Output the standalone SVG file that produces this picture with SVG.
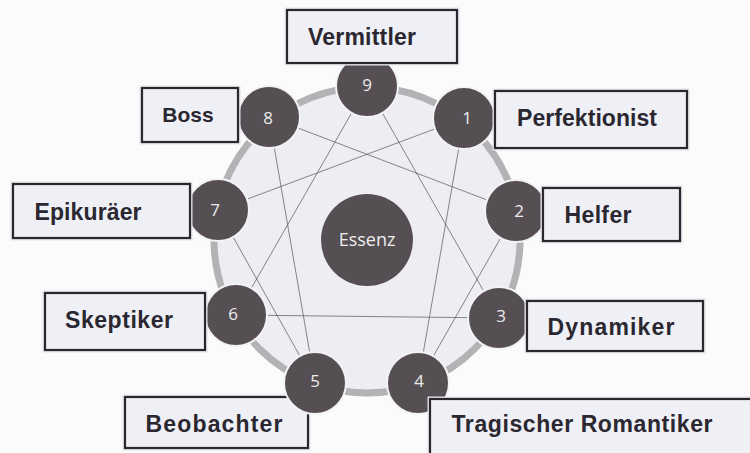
<svg xmlns="http://www.w3.org/2000/svg" width="750" height="453" viewBox="0 0 750 453">
<style>
.bg{fill:#fbfbfc}
.ring{fill:#ededf3;stroke:#b3b3b6;stroke-width:7}
.ln{stroke:#55555a;stroke-width:0.7;fill:none}
.node{fill:#554f53;stroke:#f3f3f5;stroke-width:2}
.num{font-family:"Open Sans","DejaVu Sans",sans-serif;font-size:17px;fill:#ececec;text-anchor:middle}
.box{fill:#efeff6;stroke:#2a282d;stroke-width:2.2}
.halo{fill:none;stroke:#e2e2ea;stroke-width:5}
.lbl{font-family:"Liberation Sans",Arial,sans-serif;font-weight:bold;font-size:23px;fill:#2b2730;text-anchor:middle}
.ess{font-family:"Open Sans","DejaVu Sans",sans-serif;font-size:18px;fill:#eeeeee;text-anchor:middle}
</style>
<rect class="bg" x="0" y="0" width="750" height="453"/>
<circle class="ring" cx="367" cy="240" r="153"/>
<g id="connectors">
<line class="ln" x1="367" y1="86" x2="499" y2="318"/>
<line class="ln" x1="499" y1="318" x2="236" y2="315"/>
<line class="ln" x1="236" y1="315" x2="367" y2="86"/>
<line class="ln" x1="464" y1="118" x2="418" y2="383"/>
<line class="ln" x1="418" y1="383" x2="516" y2="211"/>
<line class="ln" x1="516" y1="211" x2="269" y2="117"/>
<line class="ln" x1="269" y1="117" x2="315" y2="383"/>
<line class="ln" x1="315" y1="383" x2="218" y2="210"/>
<line class="ln" x1="218" y1="210" x2="464" y2="118"/>
</g>
<g id="label-beobachter">
<rect class="halo" x="125" y="397" width="183" height="51"/>
<rect class="box" x="125" y="397" width="183" height="51"/>
<text class="lbl" x="214" y="432" textLength="137">Beobachter</text>
</g>
<g id="essenz">
<circle cx="367" cy="240" r="46" fill="#554f53"/>
<text class="ess" x="367" y="246">Essenz</text>
</g>
<g id="n9"><circle class="node" cx="367" cy="86" r="31"/><text class="num" x="367" y="91">9</text></g>
<g id="n1"><circle class="node" cx="464" cy="118" r="31"/><text class="num" x="467" y="124">1</text></g>
<g id="n2"><circle class="node" cx="516" cy="211" r="31"/><text class="num" x="519" y="217">2</text></g>
<g id="n3"><circle class="node" cx="499" cy="318" r="31"/><text class="num" x="501" y="322">3</text></g>
<g id="n4"><circle class="node" cx="418" cy="383" r="31"/><text class="num" x="419" y="387">4</text></g>
<g id="n5"><circle class="node" cx="315" cy="383" r="31"/><text class="num" x="315" y="387">5</text></g>
<g id="n6"><circle class="node" cx="236" cy="315" r="31"/><text class="num" x="233" y="320">6</text></g>
<g id="n7"><circle class="node" cx="218" cy="210" r="31"/><text class="num" x="215" y="216">7</text></g>
<g id="n8"><circle class="node" cx="269" cy="117" r="31"/><text class="num" x="268" y="124">8</text></g>
<g id="label-vermittler">
<rect class="halo" x="287" y="10" width="170" height="53"/>
<rect class="box" x="287" y="10" width="170" height="53"/>
<text class="lbl" x="362" y="45" textLength="108">Vermittler</text>
</g>
<g id="label-boss">
<rect class="halo" x="142" y="88" width="96" height="54"/>
<rect class="box" x="142" y="88" width="96" height="54"/>
<text class="lbl" x="188" y="122" style="font-size:21px">Boss</text>
</g>
<g id="label-perfektionist">
<rect class="halo" x="495" y="91" width="192" height="57"/>
<rect class="box" x="495" y="91" width="192" height="57"/>
<text class="lbl" x="587" y="126" textLength="140">Perfektionist</text>
</g>
<g id="label-epikuraeer">
<rect class="halo" x="13" y="184" width="177" height="54"/>
<rect class="box" x="13" y="184" width="177" height="54"/>
<text class="lbl" x="88" y="220" textLength="107">Epikuräer</text>
</g>
<g id="label-helfer">
<rect class="halo" x="543" y="188" width="137" height="53"/>
<rect class="box" x="543" y="188" width="137" height="53"/>
<text class="lbl" x="598" y="223" textLength="67">Helfer</text>
</g>
<g id="label-skeptiker">
<rect class="halo" x="45" y="293" width="160" height="57"/>
<rect class="box" x="45" y="293" width="160" height="57"/>
<text class="lbl" x="119" y="328" textLength="108">Skeptiker</text>
</g>
<g id="label-dynamiker">
<rect class="halo" x="527" y="301" width="176" height="50"/>
<rect class="box" x="527" y="301" width="176" height="50"/>
<text class="lbl" x="611" y="335" textLength="127">Dynamiker</text>
</g>
<g id="label-tragischer">
<rect class="halo" x="430" y="399" width="330" height="60"/>
<rect class="box" x="430" y="399" width="330" height="60"/>
<text class="lbl" x="582" y="432" textLength="261">Tragischer Romantiker</text>
</g>
</svg>
